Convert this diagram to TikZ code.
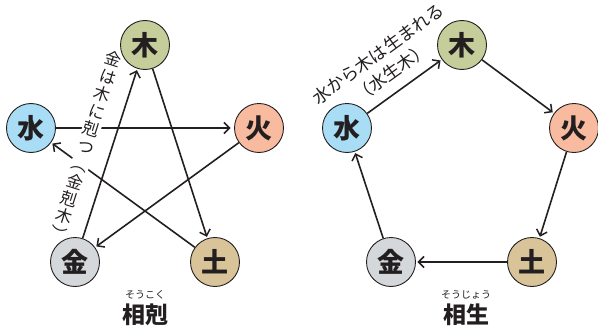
\documentclass[tikz,border=0pt]{standalone}
\usepackage{fontspec}
\newfontfamily\jp{Noto Sans CJK JP}
\usetikzlibrary{arrows.meta}
\pgfdeclarelayer{front}
\pgfsetlayers{main,front}
\definecolor{cmoku}{RGB}{197,206,155}
\definecolor{cka}{RGB}{248,187,160}
\definecolor{csui}{RGB}{168,221,245}
\definecolor{ckin}{RGB}{213,216,218}
\definecolor{cdo}{RGB}{217,196,154}
\definecolor{ink}{RGB}{35,31,32}
\begin{document}
\begin{tikzpicture}[x=1pt,y=1pt,
  elem/.style={circle,draw=ink,line width=0.9pt,minimum size=49pt,inner sep=0pt,
    font=\jp\bfseries\fontsize{27}{27}\selectfont,text=ink},
  arr/.style={draw=ink,line width=1.6pt,-{Straight Barb[length=5.5pt,width=11pt,line width=1.5pt]},shorten >=1.5pt},
  lbl/.style={font=\jp\fontsize{16.5}{18.3}\selectfont,text=ink},
  ttl/.style={font=\jp\bfseries\fontsize{23}{23}\selectfont,text=ink},
  ruby/.style={font=\jp\fontsize{10}{10}\selectfont,text=ink}]
\useasboundingbox (0,0) rectangle (598,-332);
\begin{pgfonlayer}{front}
% left circles
\node[elem,fill=cmoku] (Lm) at (145,-45) {木};
\node[elem,fill=csui]  (Ls) at (31,-128) {水};
\node[elem,fill=cka]   (Lk) at (259,-128) {火};
\node[elem,fill=ckin]  (Lg) at (75,-262) {金};
\node[elem,fill=cdo]   (Ld) at (215,-262) {土};
% right circles
\node[elem,fill=cmoku] (Rm) at (462,-45) {木};
\node[elem,fill=csui]  (Rs) at (347,-128) {水};
\node[elem,fill=cka]   (Rk) at (574,-128) {火};
\node[elem,fill=ckin]  (Rg) at (391,-262) {金};
\node[elem,fill=cdo]   (Rd) at (532,-262) {土};
\end{pgfonlayer}
% left: sokoku
\draw[arr] (Lm) -- (Ld);
\draw[arr] (Ld) -- (Ls);
\draw[arr,shorten >=3.5pt] (Ls) -- (Lk);
\draw[arr] (Lk) -- (Lg);
\node[lbl,fill=white,inner sep=1pt,align=center,rotate=-17.5] (Ltxt) at (86,-146)
  {金\\は\\木\\に\\剋\\つ\\︵\\金\\剋\\木\\︶};
\draw[arr] (Lg) -- (Lm);
\node[ruby] (Lr) at (145,-295) {そうこく};
\node[ttl] (Lt) at (145,-315) {相剋};
% right: sosho
\draw[arr] (Rs) -- (Rm);
\draw[arr] (Rm) -- (Rk);
\draw[arr] (Rk) -- (Rd);
\draw[arr] (Rd) -- (Rg);
\draw[arr] (Rg) -- (Rs);
\node[font=\jp\fontsize{17.5}{23}\selectfont,text=ink,align=center,rotate=35.8,inner sep=0pt] (Rtxt) at (385,-63)
  {水から木は生まれる\\（水生木）};
\node[ruby] (Rr) at (466,-295) {そうじょう};
\node[ttl] (Rt) at (466,-315) {相生};
\end{tikzpicture}
\end{document}
